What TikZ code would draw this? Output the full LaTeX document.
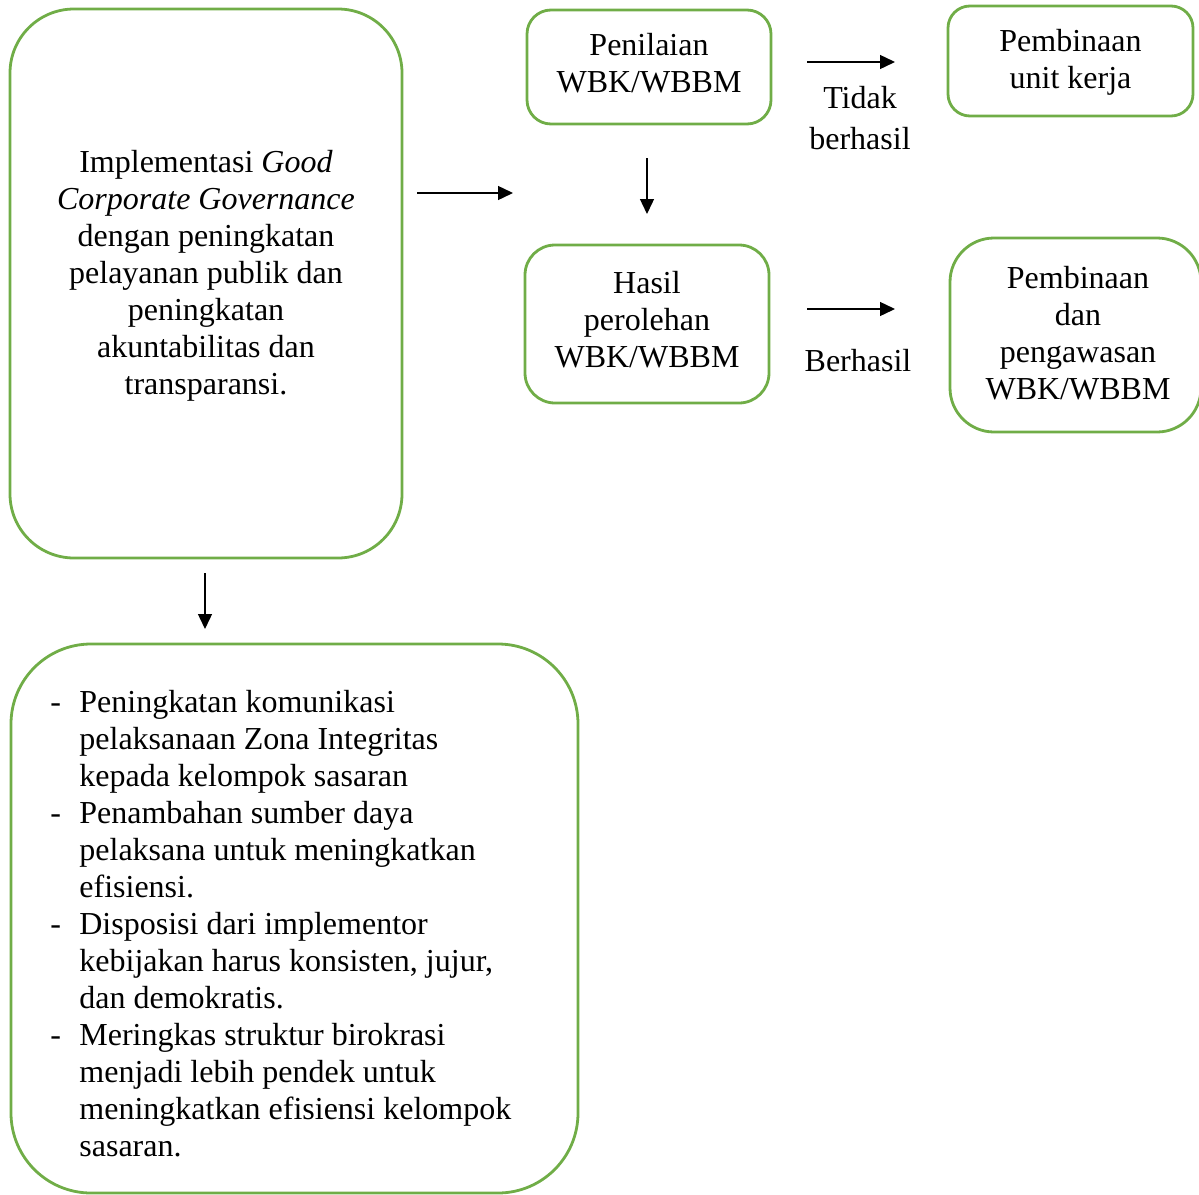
\documentclass[tikz,border=0pt]{standalone}
\usepackage{fontspec}
\setmainfont{Liberation Serif}
\usetikzlibrary{arrows.meta}
\definecolor{boxgreen}{HTML}{70AD47}
\begin{document}
\begin{tikzpicture}[x=0.5pt,y=-0.5pt,
  gbox/.style={draw=boxgreen, line width=1.4pt, rounded corners=#1, inner sep=0pt},
  txt/.style={font=\fontsize{16}{18.5}\selectfont, align=center, inner sep=0pt, anchor=base},
  lbl/.style={font=\fontsize{16}{20.5}\selectfont, align=center, inner sep=0pt, anchor=base},
  arr/.style={line width=0.7pt, -{Triangle[length=7.5pt,width=7pt]}}]
\useasboundingbox (0,0) rectangle (1199,1194);
\clip (0,0) rectangle (1199,1194);

% boxes
\node[gbox=32pt, minimum width=196pt, minimum height=274.5pt] (gcg) at (206,283.5) {};
\node[gbox=12pt, minimum width=122pt, minimum height=57pt] (nilai) at (649,67) {};
\node[gbox=15pt, minimum width=122pt, minimum height=79pt] (hasil) at (647,324) {};
\node[gbox=11pt, minimum width=122.5pt, minimum height=55pt] (unit) at (1070.5,61) {};
\node[gbox=22pt, minimum width=125.5pt, minimum height=97pt] (awas) at (1075.5,335) {};
\node[gbox=40pt, minimum width=283.5pt, minimum height=274.5pt] (saran) at (294.5,918.5) {};

% texts (base anchor = baseline of last line)
\node[txt] (gcgtext) at (206,394) {Implementasi \textit{Good}\\\textit{Corporate Governance}\\dengan peningkatan\\pelayanan publik dan\\peningkatan\\akuntabilitas dan\\transparansi.};
\node[txt] (nilaitext) at (649,92) {Penilaian\\WBK/WBBM};
\node[txt] (hasiltext) at (647,367) {Hasil\\perolehan\\WBK/WBBM};
\node[txt] (unittext) at (1070.5,88) {Pembinaan\\unit kerja};
\node[txt] (awastext) at (1078,399) {Pembinaan\\dan\\pengawasan\\WBK/WBBM};
\node[lbl] (tidak) at (860,149) {Tidak\\berhasil};
\node[lbl] (berhasil) at (858,371) {Berhasil};

\node[txt, align=left, anchor=base west] (sarantext) at (50,1156) {%
\makebox[14.5pt][l]{-}Peningkatan komunikasi\\
\hspace*{14.5pt}pelaksanaan Zona Integritas\\
\hspace*{14.5pt}kepada kelompok sasaran\\
\makebox[14.5pt][l]{-}Penambahan sumber daya\\
\hspace*{14.5pt}pelaksana untuk meningkatkan\\
\hspace*{14.5pt}efisiensi.\\
\makebox[14.5pt][l]{-}Disposisi dari implementor\\
\hspace*{14.5pt}kebijakan harus konsisten, jujur,\\
\hspace*{14.5pt}dan demokratis.\\
\makebox[14.5pt][l]{-}Meringkas struktur birokrasi\\
\hspace*{14.5pt}menjadi lebih pendek untuk\\
\hspace*{14.5pt}meningkatkan efisiensi kelompok\\
\hspace*{14.5pt}sasaran.};

% arrow end points
\coordinate (a1s) at (417,193); \coordinate (a1e) at (513,193);
\coordinate (a2s) at (647,158); \coordinate (a2e) at (647,214);
\coordinate (a3s) at (205,573); \coordinate (a3e) at (205,629);
\coordinate (a4s) at (807,62);  \coordinate (a4e) at (895,62);
\coordinate (a5s) at (807,309); \coordinate (a5e) at (895,309);

\draw[arr] (a1s) -- (a1e);
\draw[arr] (a2s) -- (a2e);
\draw[arr] (a3s) -- (a3e);
\draw[arr] (a4s) -- (a4e);
\draw[arr] (a5s) -- (a5e);
\end{tikzpicture}
\end{document}
